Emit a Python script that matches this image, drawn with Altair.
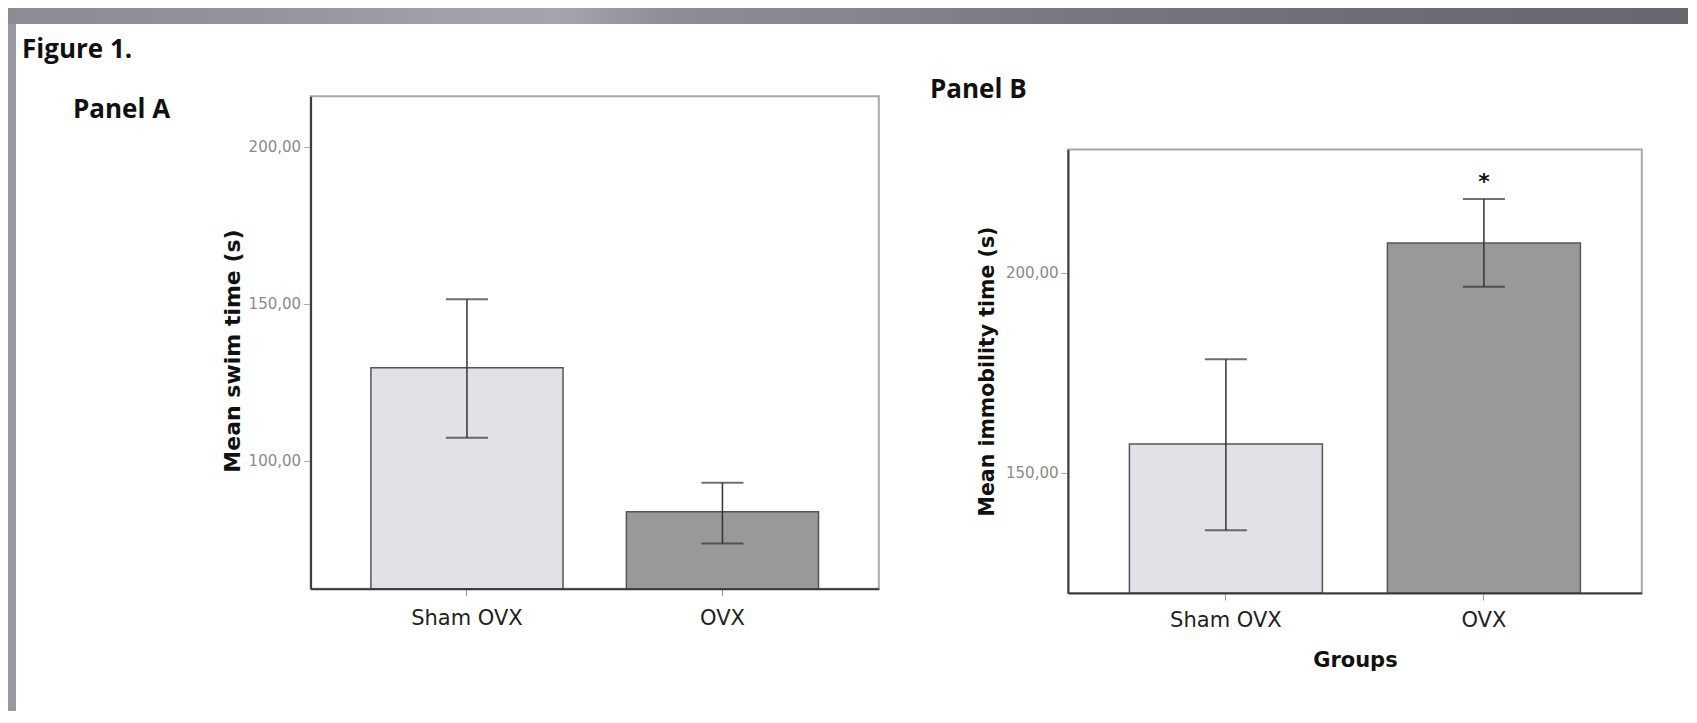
import altair as alt
import pandas as pd

# ---------------- data ----------------
GROUPS = ["Sham OVX", "OVX"]

SWIM_MEAN = [129.6, 83.7]
SWIM_LOWER = [107.3, 73.6]
SWIM_UPPER = [151.4, 93.0]

IMMOB_MEAN = [157.2, 207.4]
IMMOB_LOWER = [135.7, 196.5]
IMMOB_UPPER = [178.4, 218.4]
SIG_B = ["", "*"]

A_TICKS = [100, 150, 200]
B_TICKS = [150, 200]
A_DOMAIN = [59.2, 216.0]
B_DOMAIN = [120.0, 230.8]

BAR_FILLS = ["#e1e1e7", "#999999"]

# ---------------- layout (pixels inside the chart) ----------------
W, H = 1680, 703
A_X = [302.6, 870.8]
A_Y = [580.8, 88.3]
B_X = [1060.0, 1633.8]
B_Y = [585.0, 141.4]

LABEL_EXPR = "replace(format(datum.value, '.2f'), '.', ',')"

dfA = pd.DataFrame({"group": GROUPS, "mean": SWIM_MEAN,
                    "lower": SWIM_LOWER, "upper": SWIM_UPPER})
dfB = pd.DataFrame({"group": GROUPS, "mean": IMMOB_MEAN,
                    "lower": IMMOB_LOWER, "upper": IMMOB_UPPER, "sig": SIG_B})
one = pd.DataFrame({"k": [1]})


def panel(df, xr, yr, domain, ticks, ytitle, ytitle_x, ytitle_y, ytitle_size,
          xtitle, xlabel_pad, pin, pout, star=False):
    xscale = alt.Scale(domain=GROUPS, range=xr, paddingInner=pin, paddingOuter=pout)
    yscale = alt.Scale(domain=domain, range=yr, nice=False, zero=False)
    xaxis_kwargs = dict(
        orient="bottom", offset=yr[0] - H, zindex=1,
        domainColor="#3a3a3a", domainWidth=2,
        tickColor="#999999", tickWidth=1, tickSize=7,
        labelFont="DejaVu Sans", labelFontSize=21, labelColor="#222222",
        labelPadding=xlabel_pad, labelAngle=0,
    )
    if xtitle:
        xaxis_kwargs.update(
            title=xtitle, titleFont="DejaVu Sans", titleFontSize=21,
            titleFontWeight="bold", titleColor="#111111",
            titleX=(xr[0] + xr[1]) / 2, titleY=652 - yr[0],
            titleBaseline="middle", titleAlign="center",
        )
    else:
        xaxis_kwargs.update(title=None)
    x = alt.X("group:N", scale=xscale, sort=GROUPS, axis=alt.Axis(**xaxis_kwargs))
    yaxis = alt.Axis(
        orient="left", offset=-xr[0], zindex=1, values=ticks, grid=False,
        labelExpr=LABEL_EXPR,
        domainColor="#3a3a3a", domainWidth=2,
        tickColor="#aaaaaa", tickWidth=1, tickSize=7,
        labelFont="DejaVu Sans", labelFontSize=15, labelColor="#8a8a8a",
        labelPadding=3,
        title=ytitle, titleFont="DejaVu Sans", titleFontSize=ytitle_size,
        titleFontWeight="bold", titleColor="#111111",
        titleAngle=270, titleX=ytitle_x, titleY=ytitle_y,
        titleBaseline="middle", titleAlign="center",
    )
    y = alt.Y("mean:Q", scale=yscale, axis=yaxis)

    base = alt.Chart(df)
    bars = base.mark_bar(stroke="#555555", strokeWidth=1.5).encode(
        x=x, y=y, y2=alt.datum(domain[0]),
        color=alt.Color("group:N", scale=alt.Scale(domain=GROUPS, range=BAR_FILLS), legend=None),
    )
    err = base.mark_rule(color="#333333", strokeWidth=1.5).encode(
        x=alt.X("group:N", sort=GROUPS), y=alt.Y("lower:Q"), y2="upper:Q")
    cap_hi = base.mark_tick(color="#333333", size=42, thickness=2).encode(
        x=alt.X("group:N", sort=GROUPS), y=alt.Y("upper:Q"))
    cap_lo = base.mark_tick(color="#333333", size=42, thickness=2).encode(
        x=alt.X("group:N", sort=GROUPS), y=alt.Y("lower:Q"))
    layers = [bars, err, cap_hi, cap_lo]
    if star:
        layers.append(
            base.mark_text(font="DejaVu Sans", fontSize=22, fontWeight="bold",
                           color="#111111", baseline="middle", dy=-17.5).encode(
                x=alt.X("group:N", sort=GROUPS), y=alt.Y("upper:Q"), text="sig:N")
        )
    return alt.layer(*layers)


panelA = panel(dfA, A_X, A_Y, A_DOMAIN, A_TICKS, "Mean swim time (s)",
               -78, 342.5, 22, None, 11.3, 0.248, 0.236)
panelB = panel(dfB, B_X, B_Y, B_DOMAIN, B_TICKS, "Mean immobility time (s)",
               -81, 363, 20.5, "Groups", 9.1, 0.252, 0.238, star=True)

# ---------------- decorations ----------------
band = alt.Chart(one).mark_rect(
    fill=alt.Gradient(
        gradient="linear", x1=0, x2=1, y1=0, y2=0,
        stops=[
            alt.GradientStop(color="#8d8a93", offset=0.0),
            alt.GradientStop(color="#96929b", offset=0.15),
            alt.GradientStop(color="#a3a0a7", offset=0.27),
            alt.GradientStop(color="#a6a3aa", offset=0.33),
            alt.GradientStop(color="#8f8a95", offset=0.40),
            alt.GradientStop(color="#888590", offset=0.50),
            alt.GradientStop(color="#7c7882", offset=0.62),
            alt.GradientStop(color="#716d75", offset=0.80),
            alt.GradientStop(color="#6a666d", offset=1.0),
        ],
    )
).encode(x=alt.value(0), x2=alt.value(W), y=alt.value(0), y2=alt.value(16))

strip = alt.Chart(one).mark_rect(fill="#9a97a0").encode(
    x=alt.value(0), x2=alt.value(8), y=alt.value(16), y2=alt.value(H))


def frame(xr, yr):
    return alt.Chart(one).mark_rect(fill="#ffffff", fillOpacity=0,
                                    stroke="#a9a9a9", strokeWidth=2).encode(
        x=alt.value(xr[0]), x2=alt.value(xr[1]), y=alt.value(yr[1]), y2=alt.value(yr[0]))


def label(text, x, y):
    return alt.Chart(one).mark_text(
        text=text, font="Open Sans", fontSize=26, fontWeight="bold",
        color="#111111", align="left", baseline="middle",
    ).encode(x=alt.value(x), y=alt.value(y))


chart = alt.layer(
    band, strip, frame(A_X, A_Y), frame(B_X, B_Y), panelA, panelB,
    label("Figure 1.", 14, 42), label("Panel A", 65, 102), label("Panel B", 922, 82),
).resolve_scale(
    x="independent", y="independent"
).resolve_axis(
    x="independent", y="independent"
).properties(
    width=W, height=H, background="white", padding=0,
    autosize=alt.AutoSizeParams(type="none"),
).configure_view(strokeWidth=0)

chart.save("out.html", embed_options={"renderer": "svg", "actions": False})
